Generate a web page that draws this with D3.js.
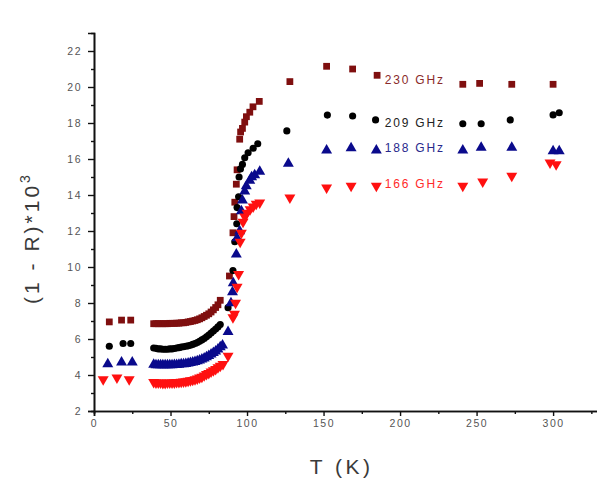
<!DOCTYPE html>
<html>
<head>
<meta charset="utf-8">
<script src="https://cdn.jsdelivr.net/npm/d3@7"></script>
<style>
	body { margin: 0; background: #fff; }
	svg { font-family: "Liberation Sans", Arial, sans-serif; }
</style>
</head>
<body>
<div id="chart"></div>
<script>
// Temperature (K) and (1-R)*10^3 per frequency
const t230 = [10, 18, 24,
	39, 40.5, 42, 43.5, 45, 46.5, 48, 49.5, 51, 52.5, 54, 55.5, 57, 58.5, 60, 61.5, 63, 64.5, 66, 67.5, 69, 70.5, 72, 73.5, 75, 76.5, 78, 79.5, 81, 82.5,
	88.5, 90.8, 91.5, 92, 93, 93.5, 95.2, 95.8, 97, 98.5, 99.6, 101.8, 103.9, 108,
	128, 152, 169, 185, 241, 252, 273, 300];
const r230 = [6.95, 7.05, 7.05,
	6.85, 6.85, 6.85, 6.85, 6.85, 6.85, 6.85, 6.87, 6.87, 6.87, 6.88, 6.88, 6.9, 6.9, 6.92, 6.95, 6.97, 7.0, 7.03, 7.07, 7.12, 7.18, 7.25, 7.32, 7.4, 7.5, 7.62, 7.75, 7.9, 8.15,
	9.5, 11.9, 12.8, 13.6, 14.6, 15.4, 17.1, 17.5, 17.7, 18.05, 18.35, 18.6, 18.9, 19.2,
	20.3, 21.15, 21.0, 20.65, 20.15, 20.2, 20.15, 20.15];

const t209 = [10, 19, 24,
	39, 40.5, 42, 43.5, 45, 46.5, 48, 49.5, 51, 52.5, 54, 55.5, 57, 58.5, 60, 61.5, 63, 64.5, 66, 67.5, 69, 70.5, 72, 73.5, 75, 76.5, 78, 79.5, 81, 82.5,
	87.6, 90.8, 92, 93.3, 93.5, 94.5, 94.8, 95.7, 97, 98.5, 100.7, 104, 107,
	126, 152.5, 169, 184, 241, 253, 272, 300, 304];
const r209 = [5.6, 5.75, 5.75,
	5.5, 5.48, 5.45, 5.45, 5.43, 5.43, 5.43, 5.45, 5.45, 5.47, 5.5, 5.52, 5.55, 5.57, 5.6, 5.62, 5.65, 5.7, 5.75, 5.8, 5.87, 5.95, 6.03, 6.12, 6.22, 6.33, 6.44, 6.55, 6.67, 6.8,
	7.74, 9.8, 11.4, 12.4, 13.3, 13.9, 15.0, 15.45, 15.7, 16.07, 16.35, 16.6, 16.85,
	17.56, 18.44, 18.39, 18.17, 17.96, 17.96, 18.17, 18.45, 18.57];

const t188 = [9, 18, 25,
	39, 40.5, 42, 43.5, 45, 46.5, 48, 49.5, 51, 52.5, 54, 55.5, 57, 58.5, 60, 61.5, 63, 64.5, 66, 67.5, 69, 70.5, 72, 73.5, 75, 76.5, 78, 79.5, 81, 82.5,
	84, 87.6, 89.5, 90.5, 91, 93, 93.5, 95.2, 96.3, 97, 98.5, 99.5, 101.8, 103, 105, 108.3,
	127, 152, 168, 184.5, 241, 253, 273, 300, 304];
const r188 = [4.6, 4.7, 4.7,
	4.58, 4.55, 4.55, 4.55, 4.55, 4.55, 4.55, 4.55, 4.55, 4.57, 4.57, 4.58, 4.6, 4.6, 4.62, 4.65, 4.67, 4.7, 4.73, 4.77, 4.82, 4.87, 4.93, 5.0, 5.07, 5.15, 5.23, 5.32, 5.42, 5.55,
	5.65, 6.4, 8.0, 8.6, 9.1, 10.7, 11.6, 12.0, 13.1, 13.7, 14.2, 14.5, 14.8, 15.0, 15.1, 15.3,
	15.74, 16.48, 16.6, 16.48, 16.48, 16.63, 16.63, 16.44, 16.44];

const t166 = [6, 15, 23,
	39, 40.5, 42, 43.5, 45, 46.5, 48, 49.5, 51, 52.5, 54, 55.5, 57, 58.5, 60, 61.5, 63, 64.5, 66, 67.5, 69, 70.5, 72, 73.5, 75, 76.5, 78, 79.5, 81, 82.5,
	84.3, 87.6, 90.8, 91.8, 92.5, 93.5, 94.5, 95.5, 96.3, 97.4, 98.5, 100, 102, 104, 106, 108.3,
	128, 152, 168, 184.5, 241, 254, 273, 298, 302];
const r166 = [3.76, 3.85, 3.76,
	3.6, 3.58, 3.57, 3.57, 3.55, 3.55, 3.57, 3.57, 3.57, 3.58, 3.6, 3.6, 3.62, 3.63, 3.65, 3.67, 3.7, 3.72, 3.75, 3.8, 3.85, 3.9, 3.97, 4.04, 4.1, 4.18, 4.25, 4.33, 4.42, 4.5,
	4.6, 5.06, 7.2, 7.4, 8.0, 8.9, 9.6, 11.4, 11.9, 12.5, 12.8, 13.0, 13.2, 13.35, 13.5, 13.57,
	13.85, 14.41, 14.5, 14.5, 14.5, 14.74, 15.06, 15.8, 15.7];

const seriesNames = ['230 GHz', '209 GHz', '188 GHz', '166 GHz'];
const seriesT = [t230, t209, t188, t166];
const seriesR = [r230, r209, r188, r166];
// where each in-plot label sits, in data units (T, value)
const labelT = [190, 190, 190, 190];
const labelR = [20.4, 18.0, 16.6, 14.6];

const xTicks = [0, 50, 100, 150, 200, 250, 300];
const yTicks = [2, 4, 6, 8, 10, 12, 14, 16, 18, 20, 22];

const WIDTH = 597, HEIGHT = 485;
const PLOT = {left: 94, right: 599, top: 33, bottom: 411};
const COLORS = ['#7f0f0f', '#000000', '#0a0a8c', '#ff1010'];
const TEXT_COLORS = ['#8a2a2a', '#222222', '#28288c', '#ff2a2a'];
const SYMBOLS = [d3.symbolSquare, d3.symbolCircle, d3.symbolTriangle, d3.symbolTriangle];
const SIZES = [46, 40, 52, 52];

const svg = d3.select('#chart').append('svg')
	.attr('width', WIDTH)
	.attr('height', HEIGHT);

const x = d3.scaleLinear().domain([0, 330]).range([PLOT.left, PLOT.right]);
const y = d3.scaleLinear().domain([2, 23]).range([PLOT.bottom, PLOT.top]);

// Axes
const xAxis = d3.axisBottom(x).tickValues(xTicks).tickSize(5).tickPadding(4);
const xMinor = d3.axisBottom(x).tickValues(d3.range(25, 330, 50)).tickSize(3).tickFormat('');
const yAxis = d3.axisLeft(y).tickValues(yTicks).tickSize(6).tickPadding(6);
const yMinor = d3.axisLeft(y).tickValues(d3.range(3, 23, 2)).tickSize(3).tickFormat('');

function styleAxis(g) {
	g.select('.domain').attr('stroke', '#111').attr('stroke-width', 1.6);
	g.selectAll('.tick line').attr('stroke', '#111').attr('stroke-width', 1.4);
	g.selectAll('.tick text')
		.attr('fill', '#555')
		.style('font-size', '10.5px')
		.style('letter-spacing', '1.5px');
}

svg.append('g').attr('transform', `translate(0, ${PLOT.bottom})`).call(xMinor).call(styleAxis);
svg.append('g').attr('transform', `translate(0, ${PLOT.bottom})`).call(xAxis).call(styleAxis);
svg.append('g').attr('transform', `translate(${PLOT.left}, 0)`).call(yMinor).call(styleAxis);
svg.append('g').attr('transform', `translate(${PLOT.left}, 0)`).call(yAxis).call(styleAxis);

// Axis titles
svg.append('text')
	.attr('x', (x(0) + x(300)) / 2 + 18)
	.attr('y', 474)
	.attr('text-anchor', 'middle')
	.attr('fill', '#3a3a3a')
	.style('font-size', '21px')
	.style('letter-spacing', '3.5px')
	.text('T (K)');

const yTitle = svg.append('text')
	.attr('transform', `translate(39, ${(y(2) + y(23)) / 2 + 16}) rotate(-90)`)
	.attr('text-anchor', 'middle')
	.attr('fill', '#3a3a3a')
	.style('font-size', '21px')
	.style('letter-spacing', '3px');
yTitle.append('tspan').text('(1 - R)*10');
yTitle.append('tspan').attr('dy', -9).style('font-size', '14px').text('3');

// Markers
seriesNames.forEach((name, i) => {
	const pts = seriesT[i].map((t, j) => ({t: t, r: seriesR[i][j]}));
	const sym = d3.symbol().type(SYMBOLS[i]).size(SIZES[i]);
	const rot = i === 3 ? ' rotate(180)' : '';
	svg.append('g')
		.selectAll('path')
		.data(pts)
		.join('path')
		.attr('d', sym)
		.attr('fill', COLORS[i])
		.attr('transform', d => `translate(${x(d.t)}, ${y(d.r)})${rot}`);

	svg.append('text')
		.attr('x', x(labelT[i]))
		.attr('y', y(labelR[i]))
		.attr('dy', '0.35em')
		.attr('fill', TEXT_COLORS[i])
		.style('font-size', '12px')
		.style('letter-spacing', '1.8px')
		.text(name);
});
</script>
</body>
</html>
